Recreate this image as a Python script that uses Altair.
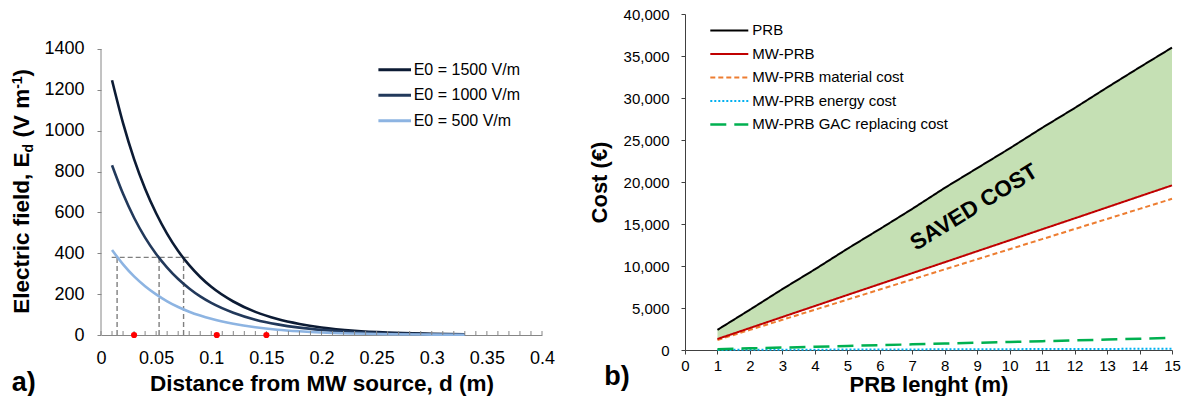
import altair as alt
import pandas as pd

FONT = "Liberation Sans"

# ---------------- Panel a) data ----------------
dist_m = [0.01, 0.02, 0.03, 0.04, 0.05, 0.06, 0.07, 0.08, 0.09, 0.10, 0.12, 0.14,
          0.16, 0.18, 0.20, 0.23, 0.26, 0.30, 0.33]
field_1500 = [1247, 1037, 861, 716, 596, 495, 411, 342, 284, 236, 164, 113,
              78, 54, 37, 21, 12, 6, 3]
field_1000 = [831, 691, 574, 477, 397, 330, 274, 228, 189, 157, 109, 75,
              52, 36, 25, 14, 8, 4, 2]
field_500 = [416, 346, 287, 239, 199, 165, 137, 114, 95, 79, 55, 38,
             26, 18, 12, 7, 4, 2, 1]
series_a = ["E0 = 1500 V/m", "E0 = 1000 V/m", "E0 = 500 V/m"]
colors_a = ["#0c1b34", "#22395b", "#8db4e2"]
guide_level = [380]
guide_d = [0.0146, 0.0527, 0.0749]
guide_h_from = [0.0097]
guide_h_to = [0.081]
dots_d = [0.03, 0.105, 0.15]
x_ticks_a = [0, 0.05, 0.1, 0.15, 0.2, 0.25, 0.3, 0.35, 0.4]
y_ticks_a = [0, 200, 400, 600, 800, 1000, 1200, 1400]
minor_ticks_a = [i / 100 for i in range(41)]

# ---------------- Panel b) data ----------------
length_m = [1, 2, 3, 4, 5, 6, 7, 8, 9, 10, 11, 12, 13, 14, 15]
prb_cost = [2400, 4800, 7250, 9600, 12050, 14400, 16800, 19300, 21650, 24000,
            26450, 28800, 31250, 33650, 36000]
mwprb_cost = [1310, 2620, 3930, 5240, 6550, 7850, 9150, 10450, 11760, 13060,
              14370, 15670, 16980, 18290, 19600]
material_cost = [1200, 2400, 3600, 4800, 6000, 7200, 8400, 9600, 10800, 12000,
                 13200, 14400, 15600, 16800, 18000]
energy_cost = [10, 20, 30, 40, 50, 60, 70, 80, 90, 100, 110, 120, 130, 140, 150]
gac_cost = [100, 200, 290, 390, 480, 580, 670, 770, 860, 960, 1050, 1150, 1240,
            1340, 1440]
series_b = ["PRB", "MW-PRB", "MW-PRB material cost", "MW-PRB energy cost",
            "MW-PRB GAC replacing cost"]
colors_b = ["#000000", "#c00000", "#ed7d31", "#00b0f0", "#00b050"]
dashes_b = [[1, 0], [1, 0], [5, 3], [2, 2], [16, 8]]
widths_b = [2, 2, 2, 2, 2.5]
x_ticks_b = list(range(0, 16))
y_ticks_b = [0, 5000, 10000, 15000, 20000, 25000, 30000, 35000, 40000]
saved_label = ["SAVED COST"]
saved_pos = [8.9, 17000]

# ---------------- geometry ----------------
WA, HA = 441, 321
YMAX_A = 1571.3
WB, HB = 487, 336
GREY = "#868686"

xs_a = alt.Scale(domain=[0, 0.4], nice=False, zero=False)
ys_a = alt.Scale(domain=[0, YMAX_A], nice=False)

df_a = pd.DataFrame({
    "x": dist_m * 3,
    "y": field_1500 + field_1000 + field_500,
    "series": [series_a[0]] * len(dist_m) + [series_a[1]] * len(dist_m) + [series_a[2]] * len(dist_m),
    "o": [3] * len(dist_m) + [2] * len(dist_m) + [1] * len(dist_m),
})

x_axis_a = alt.Axis(values=x_ticks_a, format="~g", ticks=False, grid=False, labelFlush=False,
                    domainColor=GREY, labelFontSize=18, labelPadding=14,
                    labelColor="black", labelFont=FONT,
                    title="Distance from MW source, d (m)", titleFont=FONT,
                    titleFontSize=22.5, titleFontWeight="bold", titleColor="black",
                    titlePadding=5)
y_axis_a = alt.Axis(values=y_ticks_a, format="d", domain=False, tickSize=4, tickColor=GREY,
                    grid=False, labelFlush=False, labelFontSize=18, labelPadding=13,
                    labelColor="black", labelFont=FONT, title=None)


def XA(f="x"):
    return alt.X(f + ":Q", scale=xs_a, axis=x_axis_a)


def YA(f="y"):
    return alt.Y(f + ":Q", scale=ys_a, axis=y_axis_a)


base_axes = alt.Chart(pd.DataFrame({"x": [0.0], "y": [0.0], "y2": [1400.0]})).mark_rule(
    color=GREY, strokeWidth=1).encode(x=XA(), y=YA(), y2="y2:Q")

guides_h = alt.Chart(pd.DataFrame({"x": guide_h_from, "x2": guide_h_to, "y": guide_level})).mark_rule(
    color="#7f7f7f", strokeDash=[5, 3], strokeWidth=1.4).encode(x=XA(), x2="x2:Q", y=YA())

guides_v = alt.Chart(pd.DataFrame({"x": guide_d, "y": [0] * 3, "y2": guide_level * 3})).mark_rule(
    color="#7f7f7f", strokeDash=[5, 3], strokeWidth=1.4).encode(x=XA(), y=YA(), y2="y2:Q")

curves = alt.Chart(df_a).mark_line(strokeWidth=2.6, interpolate="monotone").encode(
    x=XA(), y=YA(),
    color=alt.Color("series:N", scale=alt.Scale(domain=series_a, range=colors_a), legend=None),
    order="o:Q")

minor = alt.Chart(pd.DataFrame({"x": minor_ticks_a})).mark_rule(color=GREY, strokeWidth=1).encode(
    x=XA(), y=alt.value(HA), y2=alt.value(HA - 4))

dots = alt.Chart(pd.DataFrame({"x": dots_d, "y": [0] * 3})).mark_circle(
    color="#ff0000", size=38, opacity=1).encode(x=XA(), y=YA())

layers_a = [base_axes, guides_h, guides_v, curves, minor, dots]

# manual legend a
for i, (name, col) in enumerate(zip(series_a, colors_a)):
    yy = 55.7 + 25.5 * i
    layers_a.append(alt.Chart(pd.DataFrame({"n": [name]})).mark_rule(color=col, strokeWidth=3).encode(
        x=alt.value(277.4), x2=alt.value(310), y=alt.value(yy)))
    layers_a.append(alt.Chart(pd.DataFrame({"n": [name]})).mark_text(
        align="left", baseline="middle", fontSize=16, font=FONT, color="black").encode(
        x=alt.value(312.7), y=alt.value(yy), text="n:N"))

# rotated y title with subscript / superscript
title_pieces = [
    ("Electric field, E", 22.5, -72.3, 299.7),
    ("d", 14, -68.3, 138.4),
    ("(V m", 22.5, -72.3, 123.5),
    ("-1", 14, -79.3, 74.8),
    (")", 22.5, -72.3, 62.4),
]
for txt, fs, bx, by in title_pieces:
    layers_a.append(alt.Chart(pd.DataFrame({"t": [txt]})).mark_text(
        angle=270, align="left", baseline="alphabetic", fontSize=fs, fontWeight="bold",
        font=FONT, color="black").encode(
        x=alt.value(bx), y=alt.value(by), text="t:N"))

layers_a.append(alt.Chart(pd.DataFrame({"t": ["a)"]})).mark_text(
    align="left", baseline="alphabetic", fontSize=27, fontWeight="bold", font=FONT,
    color="black").encode(x=alt.value(-89.3), y=alt.value(376.7), text="t:N"))

panel_a = alt.layer(*layers_a).properties(width=WA, height=HA)

# ---------------- Panel b ----------------
xs_b = alt.Scale(domain=[0, 15], nice=False)
ys_b = alt.Scale(domain=[0, 40000], nice=False)

x_axis_b = alt.Axis(values=x_ticks_b, tickSize=4, tickColor="#404040", domainColor="#404040",
                    grid=False, labelFlush=False, labelFontSize=15, labelPadding=4,
                    labelColor="black", labelFont=FONT, title="PRB lenght (m)", titleFont=FONT,
                    titleFontSize=22, titleFontWeight="bold", titleColor="black", titlePadding=1)
y_axis_b = alt.Axis(values=y_ticks_b, format=",d", tickSize=4, tickColor="#404040",
                    domainColor="#404040", grid=False, labelFlush=False, labelFontSize=15,
                    labelPadding=12, labelColor="black", labelFont=FONT, title="Cost (€)",
                    titleFont=FONT, titleFontSize=22, titleFontWeight="bold",
                    titleColor="black", titlePadding=12)


def XB(f="x"):
    return alt.X(f + ":Q", scale=xs_b, axis=x_axis_b)


def YB(f="y"):
    return alt.Y(f + ":Q", scale=ys_b, axis=y_axis_b)


df_b = pd.DataFrame({"x": length_m, "y": prb_cost, "y2": mwprb_cost})
area = alt.Chart(df_b).mark_area(color="#c5e0b4", opacity=1).encode(
    x=XB(), y=YB(), y2="y2:Q")

layers_b = [area]
values_b = [prb_cost, mwprb_cost, material_cost, energy_cost, gac_cost]
draw_order = [2, 3, 4, 1, 0]
for k in draw_order:
    d = pd.DataFrame({"x": length_m, "y": values_b[k]})
    layers_b.append(alt.Chart(d).mark_line(
        color=colors_b[k], strokeDash=dashes_b[k], strokeWidth=widths_b[k]).encode(
        x=XB(), y=YB()))

for i, name in enumerate(series_b):
    yy = 16.4 + 23.5 * i
    layers_b.append(alt.Chart(pd.DataFrame({"n": [name]})).mark_rule(
        color=colors_b[i], strokeDash=dashes_b[i], strokeWidth=widths_b[i]).encode(
        x=alt.value(25.3), x2=alt.value(63.3), y=alt.value(yy)))
    layers_b.append(alt.Chart(pd.DataFrame({"n": [name]})).mark_text(
        align="left", baseline="middle", fontSize=15, font=FONT, color="black").encode(
        x=alt.value(67.3), y=alt.value(yy), text="n:N"))

layers_b.append(alt.Chart(pd.DataFrame({"t": saved_label, "x": [saved_pos[0]], "y": [saved_pos[1]]})).mark_text(
    angle=328.5, align="center", baseline="middle", fontSize=22.5, fontWeight="bold",
    font=FONT, color="black").encode(x=XB(), y=YB(), text="t:N"))

layers_b.append(alt.Chart(pd.DataFrame({"t": ["b)"]})).mark_text(
    align="left", baseline="alphabetic", fontSize=27, fontWeight="bold", font=FONT,
    color="black").encode(x=alt.value(-80.7), y=alt.value(370.7), text="t:N"))

panel_b = alt.layer(*layers_b).properties(width=WB, height=HB)

chart = alt.hconcat(panel_a, panel_b, spacing=33).properties(
    padding={"left": 10, "top": 7, "right": 0, "bottom": 0},
    background="white",
).configure_view(stroke=None)

chart.save("out.html", embed_options={"renderer": "svg", "actions": False})
